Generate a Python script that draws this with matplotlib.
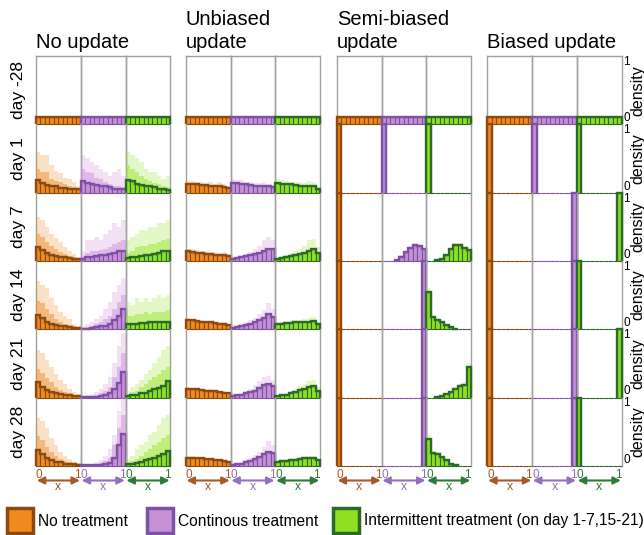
import matplotlib.pyplot as plt
from matplotlib.patches import Rectangle
import numpy as np

plt.rcParams['font.family'] = ['Liberation Sans', 'DejaVu Sans']

days = ['day -28', 'day 1', 'day 7', 'day 14', 'day 21', 'day 28']
panel_titles = [['No update'], ['Unbiased', 'update'], ['Semi-biased', 'update'], ['Biased update']]
treatments = ['No treatment', 'Continous treatment', 'Intermittent treatment (on day 1-7,15-21)']
bin_edges = np.linspace(0, 1, 11)

start = [0.1, 0.1, 0.1, 0.1, 0.1, 0.1, 0.1, 0.1, 0.1, 0.1]
at_0 = [1, 0, 0, 0, 0, 0, 0, 0, 0, 0]
at_1 = [0, 0, 0, 0, 0, 0, 0, 0, 0, 1]

# ---- No update: mean histogram, upper cloud, dense cloud ----
noupd_none = [start,
              [0.18, 0.14, 0.11, 0.09, 0.09, 0.07, 0.07, 0.06, 0.06, 0.05],
              [0.20, 0.16, 0.11, 0.08, 0.07, 0.06, 0.05, 0.04, 0.03, 0.03],
              [0.21, 0.17, 0.10, 0.08, 0.06, 0.05, 0.04, 0.03, 0.02, 0.02],
              [0.22, 0.16, 0.11, 0.08, 0.06, 0.05, 0.04, 0.03, 0.02, 0.02],
              [0.23, 0.17, 0.12, 0.09, 0.06, 0.05, 0.03, 0.02, 0.02, 0.01]]
noupd_none_hi = [start,
                 [0.60, 0.55, 0.55, 0.40, 0.32, 0.28, 0.22, 0.20, 0.15, 0.10],
                 [0.65, 0.60, 0.50, 0.40, 0.33, 0.27, 0.20, 0.15, 0.10, 0.06],
                 [0.70, 0.65, 0.60, 0.45, 0.35, 0.25, 0.20, 0.15, 0.08, 0.05],
                 [0.70, 0.65, 0.55, 0.45, 0.35, 0.25, 0.20, 0.12, 0.08, 0.05],
                 [0.70, 0.65, 0.55, 0.40, 0.30, 0.20, 0.15, 0.10, 0.06, 0.04]]
noupd_none_mid = [start,
                  [0.35, 0.30, 0.30, 0.20, 0.17, 0.15, 0.12, 0.10, 0.08, 0.06],
                  [0.40, 0.35, 0.28, 0.22, 0.17, 0.13, 0.10, 0.07, 0.05, 0.03],
                  [0.42, 0.38, 0.30, 0.22, 0.15, 0.10, 0.08, 0.06, 0.04, 0.03],
                  [0.42, 0.36, 0.28, 0.22, 0.15, 0.11, 0.08, 0.06, 0.04, 0.03],
                  [0.44, 0.38, 0.28, 0.20, 0.14, 0.10, 0.07, 0.05, 0.03, 0.02]]

noupd_cont = [start,
              [0.17, 0.14, 0.13, 0.11, 0.10, 0.09, 0.08, 0.06, 0.06, 0.05],
              [0.03, 0.05, 0.06, 0.07, 0.08, 0.09, 0.10, 0.12, 0.14, 0.15],
              [0.01, 0.01, 0.02, 0.03, 0.04, 0.05, 0.08, 0.13, 0.20, 0.29],
              [0.005, 0.005, 0.01, 0.01, 0.02, 0.03, 0.06, 0.12, 0.21, 0.38],
              [0.005, 0.005, 0.005, 0.01, 0.01, 0.02, 0.04, 0.12, 0.30, 0.46]]
noupd_cont_hi = [start,
                 [0.55, 0.50, 0.45, 0.40, 0.35, 0.30, 0.25, 0.30, 0.35, 0.25],
                 [0.15, 0.30, 0.30, 0.35, 0.30, 0.40, 0.45, 0.55, 0.50, 0.60],
                 [0.05, 0.08, 0.10, 0.15, 0.20, 0.30, 0.40, 0.55, 0.65, 0.75],
                 [0.02, 0.03, 0.05, 0.08, 0.12, 0.20, 0.30, 0.50, 0.75, 0.95],
                 [0.01, 0.02, 0.03, 0.05, 0.08, 0.15, 0.25, 0.45, 0.80, 1.00]]
noupd_cont_mid = [start,
                  [0.35, 0.30, 0.28, 0.22, 0.20, 0.15, 0.12, 0.10, 0.10, 0.08],
                  [0.06, 0.12, 0.14, 0.15, 0.16, 0.18, 0.20, 0.25, 0.28, 0.30],
                  [0.02, 0.03, 0.05, 0.07, 0.10, 0.15, 0.20, 0.30, 0.40, 0.50],
                  [0.01, 0.01, 0.02, 0.04, 0.06, 0.10, 0.15, 0.30, 0.45, 0.65],
                  [0.005, 0.01, 0.01, 0.02, 0.04, 0.07, 0.12, 0.30, 0.55, 0.75]]

noupd_inter = [start,
               [0.19, 0.17, 0.12, 0.11, 0.10, 0.09, 0.08, 0.06, 0.05, 0.04],
               [0.04, 0.05, 0.06, 0.07, 0.08, 0.09, 0.10, 0.12, 0.14, 0.15],
               [0.07, 0.07, 0.08, 0.09, 0.09, 0.10, 0.10, 0.10, 0.10, 0.11],
               [0.02, 0.03, 0.04, 0.06, 0.07, 0.09, 0.13, 0.14, 0.17, 0.24],
               [0.02, 0.03, 0.04, 0.06, 0.08, 0.10, 0.12, 0.14, 0.17, 0.22]]
noupd_inter_hi = [start,
                  [0.60, 0.55, 0.50, 0.45, 0.35, 0.30, 0.30, 0.25, 0.20, 0.25],
                  [0.30, 0.35, 0.40, 0.45, 0.45, 0.50, 0.50, 0.55, 0.55, 0.60],
                  [0.40, 0.35, 0.45, 0.40, 0.45, 0.40, 0.45, 0.50, 0.45, 0.50],
                  [0.10, 0.15, 0.20, 0.25, 0.35, 0.40, 0.50, 0.60, 0.70, 0.75],
                  [0.10, 0.15, 0.25, 0.30, 0.35, 0.45, 0.50, 0.60, 0.70, 0.75]]
noupd_inter_mid = [start,
                   [0.40, 0.35, 0.30, 0.25, 0.20, 0.17, 0.14, 0.12, 0.10, 0.08],
                   [0.12, 0.15, 0.20, 0.22, 0.22, 0.25, 0.25, 0.28, 0.30, 0.32],
                   [0.20, 0.20, 0.22, 0.22, 0.25, 0.22, 0.25, 0.25, 0.25, 0.28],
                   [0.05, 0.08, 0.10, 0.15, 0.20, 0.25, 0.30, 0.35, 0.40, 0.45],
                   [0.05, 0.07, 0.10, 0.15, 0.20, 0.25, 0.30, 0.35, 0.40, 0.45]]

# ---- Unbiased update ----
unb_none = [start,
            [0.12, 0.12, 0.12, 0.11, 0.11, 0.10, 0.10, 0.09, 0.08, 0.07],
            [0.14, 0.13, 0.12, 0.11, 0.10, 0.10, 0.09, 0.09, 0.08, 0.07],
            [0.14, 0.13, 0.12, 0.11, 0.10, 0.10, 0.09, 0.08, 0.08, 0.06],
            [0.13, 0.12, 0.12, 0.11, 0.10, 0.10, 0.09, 0.08, 0.07, 0.06],
            [0.12, 0.12, 0.11, 0.11, 0.10, 0.10, 0.09, 0.08, 0.07, 0.06]]
unb_none_hi = [start,
               [0.17, 0.17, 0.16, 0.15, 0.14, 0.15, 0.13, 0.16, 0.12, 0.10],
               [0.18, 0.17, 0.16, 0.15, 0.14, 0.13, 0.13, 0.12, 0.13, 0.10],
               [0.16, 0.15, 0.14, 0.13, 0.12, 0.12, 0.11, 0.10, 0.10, 0.08],
               [0.15, 0.14, 0.14, 0.13, 0.12, 0.12, 0.11, 0.10, 0.09, 0.08],
               [0.14, 0.14, 0.13, 0.13, 0.12, 0.12, 0.11, 0.10, 0.09, 0.08]]
unb_cont = [start,
            [0.14, 0.14, 0.13, 0.12, 0.11, 0.10, 0.10, 0.09, 0.09, 0.08],
            [0.03, 0.04, 0.05, 0.07, 0.08, 0.10, 0.12, 0.15, 0.18, 0.18],
            [0.02, 0.03, 0.04, 0.06, 0.08, 0.10, 0.13, 0.16, 0.22, 0.18],
            [0.02, 0.03, 0.04, 0.06, 0.08, 0.10, 0.14, 0.18, 0.20, 0.17],
            [0.01, 0.02, 0.03, 0.05, 0.07, 0.10, 0.13, 0.17, 0.20, 0.19]]
unb_cont_hi = [start,
               [0.20, 0.19, 0.18, 0.16, 0.15, 0.14, 0.14, 0.15, 0.12, 0.10],
               [0.05, 0.06, 0.08, 0.10, 0.13, 0.17, 0.22, 0.30, 0.35, 0.30],
               [0.03, 0.05, 0.07, 0.10, 0.13, 0.17, 0.22, 0.28, 0.38, 0.30],
               [0.03, 0.05, 0.07, 0.10, 0.13, 0.18, 0.24, 0.30, 0.32, 0.25],
               [0.02, 0.03, 0.05, 0.08, 0.12, 0.16, 0.20, 0.28, 0.36, 0.30]]
unb_inter = [start,
             [0.14, 0.13, 0.12, 0.12, 0.11, 0.10, 0.10, 0.10, 0.09, 0.06],
             [0.03, 0.04, 0.06, 0.07, 0.09, 0.10, 0.12, 0.15, 0.17, 0.12],
             [0.08, 0.08, 0.09, 0.09, 0.10, 0.10, 0.11, 0.11, 0.12, 0.08],
             [0.02, 0.03, 0.04, 0.06, 0.08, 0.11, 0.13, 0.16, 0.17, 0.10],
             [0.06, 0.07, 0.07, 0.08, 0.09, 0.10, 0.11, 0.12, 0.11, 0.08]]
unb_inter_hi = [start,
                [0.20, 0.18, 0.17, 0.16, 0.15, 0.15, 0.14, 0.17, 0.15, 0.10],
                [0.05, 0.07, 0.09, 0.11, 0.14, 0.17, 0.22, 0.30, 0.32, 0.20],
                [0.11, 0.11, 0.12, 0.13, 0.14, 0.14, 0.15, 0.16, 0.18, 0.11],
                [0.04, 0.05, 0.07, 0.10, 0.13, 0.17, 0.20, 0.24, 0.26, 0.15],
                [0.09, 0.10, 0.10, 0.11, 0.12, 0.13, 0.14, 0.15, 0.14, 0.10]]

# ---- Semi-biased update ----
semi_none = [start, at_0, at_0, at_0, at_0, at_0]
semi_cont = [start, at_0,
             [0, 0, 0, 0.02, 0.06, 0.13, 0.19, 0.23, 0.22, 0.17],
             at_1, at_1, at_1]
semi_inter = [start, at_0,
              [0, 0, 0.01, 0.03, 0.08, 0.17, 0.23, 0.23, 0.19, 0.16],
              [0.54, 0.18, 0.14, 0.10, 0.06, 0.03, 0.01, 0, 0, 0],
              [0, 0, 0.01, 0.02, 0.05, 0.08, 0.13, 0.17, 0.19, 0.44],
              [0.39, 0.19, 0.18, 0.13, 0.08, 0.03, 0.01, 0, 0, 0]]
semi_cont_hi = [start, at_0,
                [0, 0, 0, 0.03, 0.08, 0.15, 0.22, 0.26, 0.25, 0.19],
                at_1, at_1, at_1]
semi_inter_hi = [start, at_0,
                 [0, 0, 0.02, 0.04, 0.10, 0.19, 0.26, 0.26, 0.22, 0.18],
                 [0.60, 0.20, 0.16, 0.11, 0.07, 0.04, 0.01, 0, 0, 0],
                 [0, 0, 0.01, 0.03, 0.06, 0.10, 0.15, 0.20, 0.22, 0.50],
                 [0.45, 0.21, 0.20, 0.14, 0.09, 0.04, 0.01, 0, 0, 0]]

# ---- Biased update ----
bias_none = [start, at_0, at_0, at_0, at_0, at_0]
bias_cont = [start, at_0, at_1, at_1, at_1, at_1]
bias_inter = [start, at_0, at_1, at_0, at_1, at_0]

groups = [
    [(noupd_none, noupd_none_hi, noupd_none_mid),
     (noupd_cont, noupd_cont_hi, noupd_cont_mid),
     (noupd_inter, noupd_inter_hi, noupd_inter_mid)],
    [(unb_none, unb_none_hi, None), (unb_cont, unb_cont_hi, None), (unb_inter, unb_inter_hi, None)],
    [(semi_none, None, None), (semi_cont, semi_cont_hi, None), (semi_inter, semi_inter_hi, None)],
    [(bias_none, None, None), (bias_cont, None, None), (bias_inter, None, None)],
]

fills = ['#EE8A1E', '#C690D4', '#8FE01E']
edges = ['#8B4A12', '#7D52A6', '#2B6A2B']
clouds = ['#EE8A1E', '#CC88DA', '#96E420']
txt_cols = ['#A8582A', '#9470BE', '#2F7A3A']
grid_col = '#A0A0A0'

W, H = 644, 535
fig = plt.figure(figsize=(W / 100, H / 100), dpi=100)
group_x = [36, 185.7, 336.7, 487.3]
sub_w = 44.8
row_top = 56
row_h = 68.3


def px_axes(x, y, w, h):
    return fig.add_axes([x / W, 1 - (y + h) / H, w / W, h / H])


centers = (bin_edges[:-1] + bin_edges[1:]) / 2

for g in range(4):
    for r in range(6):
        for t in range(3):
            ax = px_axes(group_x[g] + t * sub_w, row_top + r * row_h, sub_w, row_h)
            ax.set_xlim(0, 1)
            ax.set_ylim(0, 1)
            ax.set_xticks([])
            ax.set_yticks([])
            ax.patch.set_visible(False)
            for s in ['left', 'right', 'top']:
                ax.spines[s].set_color(grid_col)
                ax.spines[s].set_linewidth(1)
                ax.spines[s].set_zorder(1)
            ax.spines['top'].set_visible(r == 0)
            ax.spines['bottom'].set_visible(False)

            mean, hi, mid = groups[g][t]
            if r > 0 and hi is not None:
                ax.bar(centers, hi[r], width=0.1, color=clouds[t], alpha=0.25, lw=0, zorder=2)
            if r > 0 and mid is not None:
                ax.bar(centers, mid[r], width=0.1, color=clouds[t], alpha=0.45, lw=0, zorder=2)
            vals = np.array(mean[r], dtype=float)
            ax.bar(centers, vals, width=0.1, color=fills[t], edgecolor=edges[t],
                   lw=0.8, zorder=3, clip_on=False)
            masked = np.where(vals == 0, np.nan, vals)
            ax.stairs(masked, bin_edges, baseline=0, color=edges[t], lw=1.7,
                      zorder=4, clip_on=False)

            if r == 5:
                ax.text(0, -0.04, '0', transform=ax.transAxes, ha='left', va='top',
                        color=txt_cols[t], fontsize=8.5)
                ax.text(1, -0.04, '1', transform=ax.transAxes, ha='right', va='top',
                        color=txt_cols[t], fontsize=8.5)
                ax.annotate('', xy=(0.02, -0.215), xytext=(0.98, -0.215),
                            xycoords='axes fraction', annotation_clip=False,
                            arrowprops=dict(arrowstyle='<|-|>', color=txt_cols[t], lw=1.5,
                                            mutation_scale=11, shrinkA=0, shrinkB=0))
                ax.text(0.5, -0.31, 'x', transform=ax.transAxes, ha='center', va='center',
                        color=txt_cols[t], fontsize=9)
            if g == 3 and t == 2:
                ax.text(1.04, 1.0, '1', transform=ax.transAxes, ha='left', va='top', fontsize=8.5)
                ax.text(1.04, 0.0, '0', transform=ax.transAxes, ha='left', va='bottom', fontsize=8.5)
                ax.text(1.36, 0.5, 'density', transform=ax.transAxes, ha='center', va='center',
                        rotation=90, fontsize=11.5)

# panel titles
for g, lines in enumerate(panel_titles):
    for k, line in enumerate(lines[::-1]):
        fig.text(group_x[g] / W, 1 - (48 - 23 * k) / H, line, ha='left', va='baseline',
                 fontsize=14.5)

# day labels
for r, d in enumerate(days):
    fig.text(19 / W, 1 - (row_top + (r + 0.5) * row_h) / H, d, rotation=90,
             ha='center', va='center', fontsize=12.5)

# legend
leg_x = [7, 147, 333]
for t in range(3):
    fig.add_artist(Rectangle((leg_x[t] / W, 1 - 533 / H), 26 / W, 25 / H,
                             transform=fig.transFigure, facecolor=fills[t],
                             edgecolor=edges[t], lw=2.5))
    fig.text((leg_x[t] + 31) / W, 1 - 521 / H, treatments[t], ha='left', va='center',
             fontsize=11.2)

fig.savefig('out.png', dpi=100)
